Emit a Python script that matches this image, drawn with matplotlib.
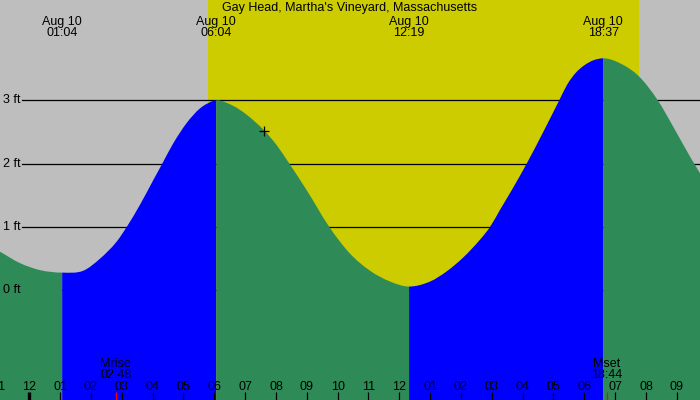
import matplotlib
matplotlib.use("Agg")
import matplotlib.pyplot as plt
import matplotlib.transforms as mtransforms
from matplotlib.path import Path
from matplotlib.patches import PathPatch

# ---------------- data (hours since midnight Aug 10, heights in ft) ----------------
title = "Gay Head, Martha's Vineyard, Massachusetts"
date_label = "Aug 10"

curve_t = [-0.950, -0.302, 0.347, 1.067, 1.751, 2.293, 2.835, 3.159, 3.590, 4.022, 4.314, 4.670,
           5.105, 5.536, 5.968, 6.067,
           6.616, 7.051, 7.622, 8.024, 8.432, 8.997, 9.730, 10.401, 11.050, 11.699, 12.317,
           13.000, 13.538, 14.076, 14.618, 14.942, 15.266, 15.645, 16.132, 16.670, 17.189,
           17.450, 17.720, 18.000, 18.300, 18.617,
           19.265, 19.784, 20.380, 20.886, 21.428, 21.752]
curve_h = [0.61, 0.43, 0.32, 0.28, 0.31, 0.50, 0.77, 1.00, 1.35, 1.74, 2.00, 2.32,
           2.64, 2.87, 2.99, 3.00,
           2.91, 2.77, 2.52, 2.29, 2.00, 1.58, 1.00, 0.58, 0.31, 0.14, 0.06,
           0.14, 0.30, 0.52, 0.80, 1.00, 1.27, 1.58, 2.00, 2.50, 3.00,
           3.25, 3.43, 3.55, 3.63, 3.66,
           3.555, 3.37, 3.00, 2.58, 2.11, 1.85]

event_times = ["01:04", "06:04", "12:19", "18:37"]
ft_levels = [0, 1, 2, 3]
hour_ticks = list(range(-1, 22))
sunrise, sunset = "05:47", "19:46"
moonrise, moonset = "02:48", "18:44"
now_time, now_height = "07:37", 2.52

# ---------------- helpers ----------------
def hrs(s):
    h, m = s.split(":")
    return int(h) + int(m) / 60.0

W, H = 700, 400
def fy(py):  # pixel-from-top -> axes fraction
    return 1 - py / H

GRAY = "#BEBEBE"
YELLOW = "#CCCC00"
GREEN = "#2E8B57"
BLUE = "#0000FF"
FONT = "Liberation Sans"
FS = 9

fig = plt.figure(figsize=(7, 4), dpi=100)
ax = fig.add_axes([0, 0, 1, 1])
ax.set_facecolor(GRAY)
ax.set_xlim(-0.950, 21.752)
ax.set_ylim(-1.729, 4.580)
for s in ax.spines.values():
    s.set_visible(False)
ax.set_xticks([])
ax.set_yticks([])

trans = mtransforms.blended_transform_factory(ax.transData, ax.transAxes)
ytrans = mtransforms.blended_transform_factory(ax.transAxes, ax.transData)

# daylight
ax.axvspan(hrs(sunrise), hrs(sunset), color=YELLOW, zorder=0, lw=0)

# height lines and labels
for lv in ft_levels:
    ax.axhline(lv, xmin=22 / W, xmax=1, color="black", lw=0.9, zorder=1)
    ax.text(3 / W, lv, f"{lv} ft", transform=ytrans, ha="left", va="center",
            fontsize=FS, family=FONT, zorder=5)

# tangents (zero at turning points) for a smooth Bezier outline through the read points
n = len(curve_t)
sl = [(curve_h[i + 1] - curve_h[i]) / (curve_t[i + 1] - curve_t[i]) for i in range(n - 1)]
tang = [sl[0]]
for i in range(1, n - 1):
    if sl[i - 1] * sl[i] <= 0:
        tang.append(0.0)
    else:
        tang.append(0.5 * (sl[i - 1] + sl[i]))
tang.append(sl[-1])

ext_idx = [0]
for i in range(1, n - 1):
    if sl[i - 1] * sl[i] < 0:
        ext_idx.append(i)
ext_idx.append(n - 1)

BOTTOM = -5
for a, b in zip(ext_idx[:-1], ext_idx[1:]):
    col = BLUE if curve_h[b] > curve_h[a] else GREEN
    verts = [(curve_t[a], curve_h[a])]
    codes = [Path.MOVETO]
    for i in range(a, b):
        dt = curve_t[i + 1] - curve_t[i]
        verts += [(curve_t[i] + dt / 3, curve_h[i] + tang[i] * dt / 3),
                  (curve_t[i + 1] - dt / 3, curve_h[i + 1] - tang[i + 1] * dt / 3),
                  (curve_t[i + 1], curve_h[i + 1])]
        codes += [Path.CURVE4] * 3
    verts += [(curve_t[b], BOTTOM), (curve_t[a], BOTTOM), (curve_t[a], curve_h[a])]
    codes += [Path.LINETO, Path.LINETO, Path.CLOSEPOLY]
    ax.add_patch(PathPatch(Path(verts, codes), facecolor=col, edgecolor="none", lw=0, zorder=2))

# current-time marker
ax.plot([hrs(now_time)], [now_height], marker="+", color="black", ms=7, mew=0.9, zorder=6)

# title
ax.text(0.5, fy(11), title, transform=ax.transAxes, ha="center", va="baseline",
        fontsize=FS, family=FONT, zorder=6)

# event labels
for et in event_times:
    x = hrs(et)
    ax.text(x, fy(24.5), date_label, transform=trans, ha="center", va="baseline",
            fontsize=FS, family=FONT, zorder=6)
    ax.text(x, fy(36), et, transform=trans, ha="center", va="baseline",
            fontsize=FS, family=FONT, zorder=6)

# hour ticks and labels
for t in hour_ticks:
    hh = t % 24
    lab = f"{(hh % 12) or 12:02d}"
    lw = 2.4 if hh == 0 else 0.9
    ax.plot([t, t], [fy(392), 0], transform=trans, color="black", lw=lw, zorder=6,
            solid_capstyle="butt")
    ax.text(t, fy(390), lab, transform=trans, ha="center", va="baseline",
            fontsize=FS, family=FONT, zorder=6)

# moon
for name, mt in (("Mrise", moonrise), ("Mset", moonset)):
    x = hrs(mt)
    ax.plot([x, x], [fy(392), 0], transform=trans, color="red", lw=0.9, zorder=6,
            solid_capstyle="butt")
    ax.text(x, fy(366.7), name, transform=trans, ha="center", va="baseline",
            fontsize=FS, family=FONT, zorder=6)
    ax.text(x, fy(378.3), mt, transform=trans, ha="center", va="baseline",
            fontsize=FS, family=FONT, zorder=6)

fig.savefig("out.png", dpi=100)
